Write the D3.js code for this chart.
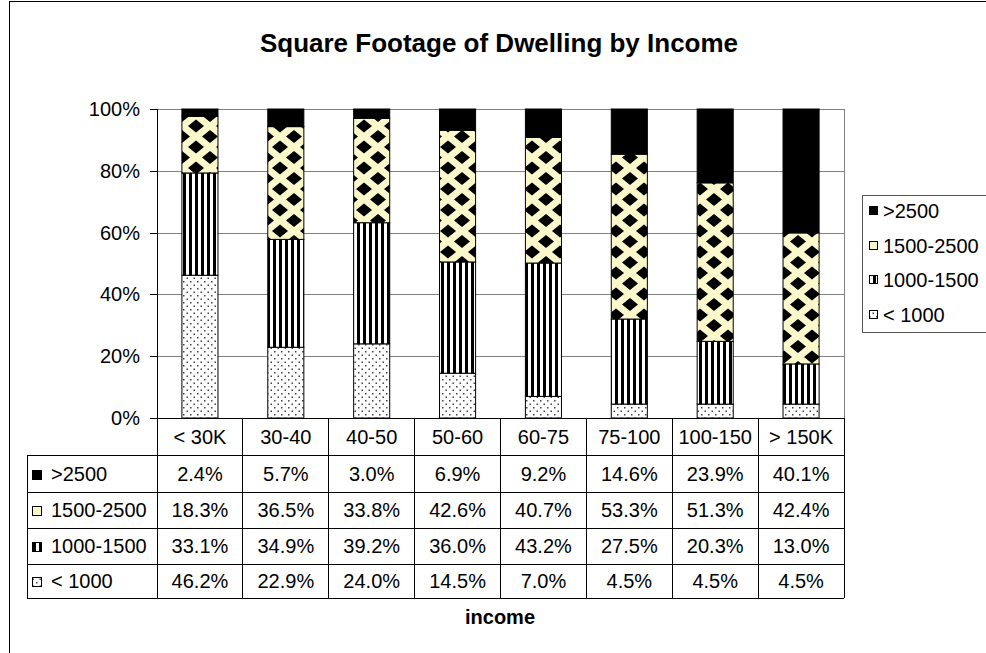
<!DOCTYPE html>
<html>
<head>
<meta charset="utf-8">
<script src="https://cdn.jsdelivr.net/npm/d3@7/dist/d3.min.js"></script>
<style>
  html, body { margin: 0; padding: 0; background: #fff; }
  svg { display: block; font-family: "Liberation Sans", Arial, sans-serif; }
</style>
</head>
<body>
<svg id="chart" width="986" height="653"></svg>
<script>
// Income bands (x categories)
const categories = ["< 30K", "30-40", "40-50", "50-60", "60-75", "75-100", "100-150", "> 150K"];
// Square footage groups, in table order (top to bottom)
const seriesNames = [">2500", "1500-2500", "1000-1500", "< 1000"];
// Share of dwellings (%) for each group, per income band
const over2500 = [2.4, 5.7, 3.0, 6.9, 9.2, 14.6, 23.9, 40.1];
const from1500to2500 = [18.3, 36.5, 33.8, 42.6, 40.7, 53.3, 51.3, 42.4];
const from1000to1500 = [33.1, 34.9, 39.2, 36.0, 43.2, 27.5, 20.3, 13.0];
const under1000 = [46.2, 22.9, 24.0, 14.5, 7.0, 4.5, 4.5, 4.5];
const yTickValues = [0, 0.2, 0.4, 0.6, 0.8, 1.0];

const seriesValues = {
  ">2500": over2500,
  "1500-2500": from1500to2500,
  "1000-1500": from1000to1500,
  "< 1000": under1000
};

const rows = categories.map((c, i) => {
  const r = { category: c };
  seriesNames.forEach(s => { r[s] = seriesValues[s][i]; });
  return r;
});

const svg = d3.select("#chart");
const plot = { left: 157, right: 844, top: 109, bottom: 418 };
const table = { left: 27, headerBottom: 455, rowBottoms: [492, 528, 564, 598] };

// ---- fill patterns ----
const defs = svg.append("defs");
const fillFor = {
  ">2500": "#000",
  "1500-2500": "url(#pat-diamond)",
  "1000-1500": "url(#pat-stripe)",
  "< 1000": "url(#pat-dots)"
};
const swatchFillFor = Object.assign({}, fillFor, { "1500-2500": "#fbf8cc" });

// cream background with black four-point diamonds
const pd = defs.append("pattern").attr("id", "pat-diamond")
  .attr("patternUnits", "userSpaceOnUse").attr("width", 28).attr("height", 21);
pd.append("rect").attr("width", 28).attr("height", 21).attr("fill", "#fbf8cc");
const star = (cx, cy, a, b, k) =>
  `M${cx},${cy - b} Q${cx + a * k},${cy - b * k} ${cx + a},${cy} ` +
  `Q${cx + a * k},${cy + b * k} ${cx},${cy + b} ` +
  `Q${cx - a * k},${cy + b * k} ${cx - a},${cy} ` +
  `Q${cx - a * k},${cy - b * k} ${cx},${cy - b} Z`;
[[0, 0], [28, 0], [0, 21], [28, 21], [14, 10.5]].forEach(([cx, cy]) => {
  pd.append("path").attr("d", star(cx, cy, 8, 6.5, 0.5)).attr("fill", "#000");
});

// vertical black stripes
const ps = defs.append("pattern").attr("id", "pat-stripe")
  .attr("patternUnits", "userSpaceOnUse").attr("width", 6).attr("height", 6);
ps.append("rect").attr("width", 6).attr("height", 6).attr("fill", "#fff");
ps.append("rect").attr("x", 3).attr("width", 3).attr("height", 6).attr("fill", "#000");

// small staggered dots
const pdt = defs.append("pattern").attr("id", "pat-dots")
  .attr("patternUnits", "userSpaceOnUse").attr("width", 7).attr("height", 7);
pdt.append("rect").attr("width", 7).attr("height", 7).attr("fill", "#fff");
pdt.append("rect").attr("x", 1).attr("y", 1).attr("width", 1.5).attr("height", 1.5).attr("fill", "#444");
pdt.append("rect").attr("x", 4.5).attr("y", 4.5).attr("width", 1.5).attr("height", 1.5).attr("fill", "#444");

// ---- outer frame & title ----
svg.append("rect").attr("x", 9.5).attr("y", 1.5).attr("width", 1000).attr("height", 700)
  .attr("fill", "#fff").attr("stroke", "#000");

svg.append("text").attr("x", 499).attr("y", 52).attr("text-anchor", "middle")
  .attr("font-size", 26).attr("font-weight", "bold").text("Square Footage of Dwelling by Income");

// ---- scales ----
const xCol = d3.scaleBand().domain(categories).range([plot.left, plot.right]).padding(0);
const x = d3.scaleBand().domain(categories).range([plot.left, plot.right])
  .paddingInner(0.58).paddingOuter(0.29);
const y = d3.scaleLinear().domain([0, 1]).range([plot.bottom, plot.top]);

// gridlines
svg.append("g").attr("transform", `translate(${plot.left},0)`)
  .call(d3.axisLeft(y).tickValues(yTickValues.slice(1)).tickSize(-(plot.right - plot.left)).tickFormat(""))
  .call(g => g.select(".domain").remove())
  .call(g => g.selectAll("line").attr("stroke", "#808080").attr("shape-rendering", "crispEdges"));
svg.append("line").attr("x1", plot.right).attr("x2", plot.right)
  .attr("y1", plot.top).attr("y2", plot.bottom)
  .attr("stroke", "#808080").attr("shape-rendering", "crispEdges");

// ---- stacked bars ----
const stackOrder = ["< 1000", "1000-1500", "1500-2500", ">2500"];
const stacked = d3.stack().keys(stackOrder).offset(d3.stackOffsetExpand)(rows);

svg.append("g").selectAll("g").data(stacked).join("g")
  .attr("fill", d => fillFor[d.key])
  .selectAll("rect").data(d => d).join("rect")
  .attr("x", d => x(d.data.category))
  .attr("width", x.bandwidth())
  .attr("y", d => y(d[1]))
  .attr("height", d => y(d[0]) - y(d[1]))
  .attr("stroke", "#000").attr("stroke-width", 1);

// ---- y axis ----
svg.append("g").attr("transform", `translate(${plot.left},0)`)
  .call(d3.axisLeft(y).tickValues(yTickValues).tickSize(7).tickPadding(10)
    .tickFormat(d3.format(".0%")))
  .call(g => g.select(".domain").remove())
  .call(g => g.selectAll("line").attr("stroke", "#000").attr("shape-rendering", "crispEdges"))
  .call(g => g.selectAll("text").attr("font-size", 20).attr("fill", "#000")
    .attr("font-family", "Liberation Sans, Arial, sans-serif"));

// ---- data table ----
const tbl = svg.append("g").attr("stroke", "#000").attr("shape-rendering", "crispEdges");
const lastRowBottom = table.rowBottoms[table.rowBottoms.length - 1];
// axis line continues down through the table
tbl.append("line").attr("x1", plot.left).attr("x2", plot.left)
  .attr("y1", plot.top).attr("y2", lastRowBottom);
tbl.append("line").attr("x1", plot.left).attr("x2", plot.right)
  .attr("y1", plot.bottom).attr("y2", plot.bottom);
[table.headerBottom, ...table.rowBottoms].forEach(yy => {
  tbl.append("line").attr("x1", table.left).attr("x2", plot.right).attr("y1", yy).attr("y2", yy);
});
tbl.append("line").attr("x1", table.left).attr("x2", table.left)
  .attr("y1", table.headerBottom).attr("y2", lastRowBottom);
categories.forEach(c => {
  const xx = xCol(c) + xCol.bandwidth();
  tbl.append("line").attr("x1", xx).attr("x2", xx).attr("y1", plot.bottom).attr("y2", lastRowBottom);
});

// column headers
svg.append("g").selectAll("text").data(categories).join("text")
  .attr("x", d => xCol(d) + xCol.bandwidth() / 2)
  .attr("y", (plot.bottom + table.headerBottom) / 2)
  .attr("dy", "0.35em").attr("text-anchor", "middle").attr("font-size", 20)
  .text(d => d);

// rows
const rowTops = [table.headerBottom, ...table.rowBottoms.slice(0, -1)];
seriesNames.forEach((s, ri) => {
  const cy = (rowTops[ri] + table.rowBottoms[ri]) / 2;
  svg.append("rect").attr("x", 32.5).attr("y", Math.round(cy - 4) + 0.5)
    .attr("width", 9).attr("height", 9)
    .attr("fill", swatchFillFor[s]).attr("stroke", "#000");
  svg.append("text").attr("x", 51).attr("y", cy).attr("dy", "0.35em")
    .attr("font-size", 20).text(s);
  svg.append("g").selectAll("text").data(seriesValues[s]).join("text")
    .attr("x", (d, i) => xCol(categories[i]) + xCol.bandwidth() / 2)
    .attr("y", cy).attr("dy", "0.35em").attr("text-anchor", "middle")
    .attr("font-size", 20).text(d => d.toFixed(1) + "%");
});

// x axis title
svg.append("text").attr("x", 500).attr("y", 617).attr("dy", "0.35em")
  .attr("text-anchor", "middle").attr("font-size", 20).attr("font-weight", "bold")
  .text("income");

// ---- legend ----
const legend = svg.append("g");
legend.append("rect").attr("x", 862.5).attr("y", 195.5).attr("width", 200).attr("height", 137)
  .attr("fill", "#fff").attr("stroke", "#555");
const legendY = [211, 246, 280, 315];
seriesNames.forEach((s, i) => {
  legend.append("rect").attr("x", 869.5).attr("y", legendY[i] - 4.5)
    .attr("width", 8).attr("height", 8).attr("fill", swatchFillFor[s]).attr("stroke", "#000");
  legend.append("text").attr("x", 883).attr("y", legendY[i]).attr("dy", "0.35em")
    .attr("font-size", 20).text(s);
});
</script>
</body>
</html>
